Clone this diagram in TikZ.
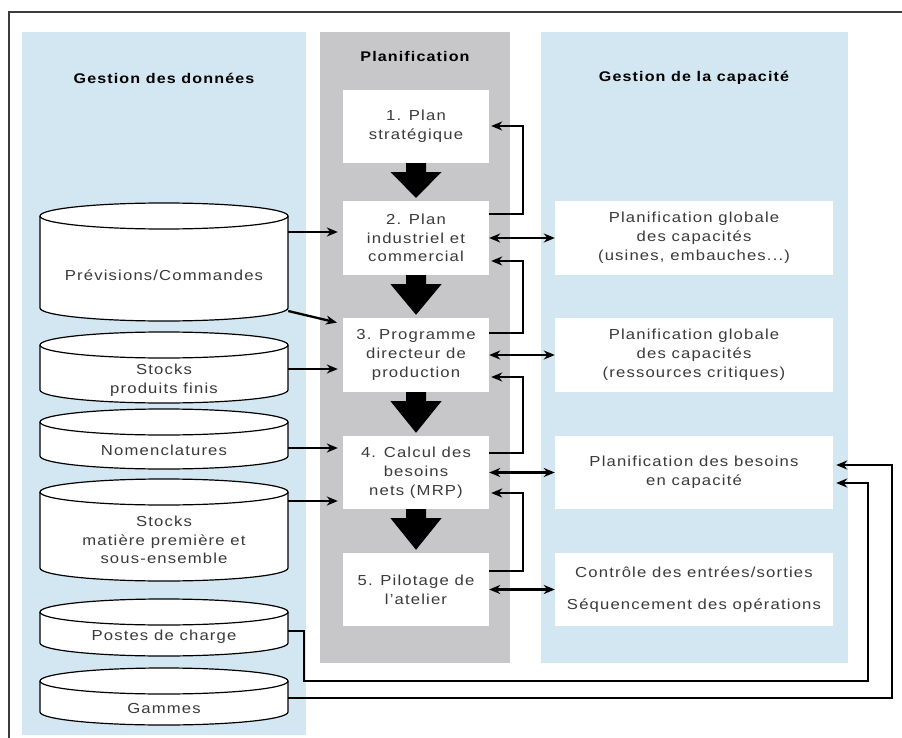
\documentclass[tikz,border=0pt]{standalone}
\usepackage{fontspec}
\setmainfont{Liberation Sans}[FakeStretch=1.15,LetterSpace=8]
\usetikzlibrary{arrows.meta,calc}
\definecolor{panelblue}{RGB}{210,231,241}
\definecolor{panelgray}{RGB}{199,199,201}
\definecolor{txtgray}{RGB}{58,58,58}
\definecolor{framec}{RGB}{60,60,60}
\tikzset{
  panel/.style={inner sep=0pt, draw=none},
  mbox/.style={fill=white, minimum width=146pt, inner sep=0pt, align=center, text=txtgray, font=\fontsize{14.5}{18.8}\selectfont},
  rbox/.style={mbox, minimum width=278pt},
  ttl/.style={inner sep=0pt, text=black, font=\fontsize{14}{16}\selectfont\bfseries},
  ctext/.style={inner sep=0pt, minimum width=248pt, align=center, text=txtgray, font=\fontsize{14.5}{18.5}\selectfont},
  cylbody/.style={fill=white, draw=black, line width=1.2pt},
  arr/.style={line width=2.3pt, -{Stealth[length=11pt,width=9pt,inset=3.5pt]}},
  darr/.style={line width=2.3pt, {Stealth[length=11pt,width=9pt,inset=3.5pt]}-{Stealth[length=11pt,width=9pt,inset=3.5pt]}},
  bigarr/.style={fill=black}
}
\newcommand{\mycyl}[2]{%
  \path[cylbody] (40,#1) -- (40,#2) arc[start angle=180,end angle=360,x radius=124pt,y radius=13pt]
    -- (288,#1) arc[start angle=0,end angle=180,x radius=124pt,y radius=13pt] -- cycle;
  \draw[line width=1.2pt] (40,#1) arc[start angle=180,end angle=360,x radius=124pt,y radius=13pt];
}
\newcommand{\bigdown}[2]{%
  \fill[bigarr] ($(#1.south)+(-10,0)$) -- ($(#1.south)+(10,0)$) -- ($(#1.south)+(10,9)$)
    -- ($(#1.south)+(25.5,9)$) -- ($(#2.north)+(0,-3)$) -- ($(#1.south)+(-25.5,9)$)
    -- ($(#1.south)+(-10,9)$) -- cycle;
}
\begin{document}
\begin{tikzpicture}[x=1pt,y=-1pt]
\useasboundingbox (0,0) rectangle (902,738);
% frame
\draw[framec, line width=1.6pt] (9,738) -- (9,12) -- (902,12);
% panels
\node[panel, fill=panelblue, minimum width=284pt, minimum height=703pt] (pL) at (164,383.5) {};
\node[panel, fill=panelgray, minimum width=190pt, minimum height=631pt] (pM) at (415,347.5) {};
\node[panel, fill=panelblue, minimum width=307pt, minimum height=631pt] (pR) at (694.5,347.5) {};
% titles
\node[ttl] (tL) at (164,78) {Gestion des données};
\node[ttl] (tM) at (415,56) {Planification};
\node[ttl] (tR) at (694,78) {Gestion de la capacité};
% middle boxes
\node[mbox, minimum height=73pt] (b1) at (416,126.5) {1. Plan\\stratégique};
\node[mbox, minimum height=74pt] (b2) at (416,238) {2. Plan\\industriel et\\commercial};
\node[mbox, minimum height=74pt] (b3) at (416,355) {3. Programme\\directeur de\\production};
\node[mbox, minimum height=73pt] (b4) at (416,472.5) {4. Calcul des\\besoins\\nets (MRP)};
\node[mbox, minimum height=73pt] (b5) at (416,589.5) {5. Pilotage de\\l'atelier};
% right boxes
\node[rbox, minimum height=74pt] (r1) at (694,238) {Planification globale\\des capacités\\(usines, embauches...)};
\node[rbox, minimum height=74pt] (r2) at (694,355) {Planification globale\\des capacités\\(ressources critiques)};
\node[rbox, minimum height=73pt] (r3) at (694,472.5) {Planification des besoins\\en capacité};
\node[rbox, minimum height=73pt, font=\fontsize{14.5}{32}\selectfont] (r4) at (694,589.5) {Contrôle des entrées/sorties\\Séquencement des opérations};
% big arrows
\bigdown{b1}{b2}
\bigdown{b2}{b3}
\bigdown{b3}{b4}
\bigdown{b4}{b5}
% cylinders
\mycyl{216}{308}
\mycyl{345}{390}
\mycyl{422}{456}
\mycyl{492}{568}
\mycyl{612}{643}
\mycyl{681}{712}
\node[ctext] (c1) at (164,275) {Prévisions/Commandes};
\node[ctext] (c2) at (164,380) {Stocks\\produits finis};
\node[ctext] (c3) at (164,450) {Nomenclatures};
\node[ctext] (c4) at (164,540) {Stocks\\matière première et\\sous-ensemble};
\node[ctext] (c5) at (164,637) {Postes de charge};
\node[ctext] (c6) at (164,709) {Gammes};
% data arrows
\draw[arr, shorten >=5pt] (c1.east |- 0,232) -- (b2.west |- 0,232);
\draw[arr, shorten >=6pt] (c1.east |- 0,311) -- (b3.west |- 0,324);
\draw[arr, shorten >=5pt] (c2.east |- 0,369) -- (b3.west |- 0,369);
\draw[arr, shorten >=5pt] (c3.east |- 0,448) -- (b4.west |- 0,448);
\draw[arr, shorten >=5pt] (c4.east |- 0,501) -- (b4.west |- 0,501);
% feedback brackets
\draw[arr, shorten >=2pt] (b2.east |- 0,214) -- ++(34,0) |- (b1.east |- 0,126);
\draw[arr, shorten >=2pt] (b3.east |- 0,333) -- ++(34,0) |- (b2.east |- 0,261);
\draw[arr, shorten >=2pt] (b4.east |- 0,453) -- ++(34,0) |- (b3.east |- 0,377);
\draw[arr, shorten >=2pt] (b5.east |- 0,571) -- ++(34,0) |- (b4.east |- 0,493);
% double arrows
\draw[darr] (b2.east) -- (r1.west);
\draw[darr] (b3.east) -- (r2.west);
\draw[darr] (b4.east) -- (r3.west);
\draw[darr] (b5.east) -- (r4.west);
% long feedback lines
\draw[arr, shorten >=3pt] (c5.east |- 0,631) -- ++(16,0) |- (868,681) |- (r3.east |- 0,483);
\draw[arr, shorten >=3pt] (c6.east |- 0,698) -| (892,465) -- (r3.east |- 0,465);
\end{tikzpicture}
\end{document}
